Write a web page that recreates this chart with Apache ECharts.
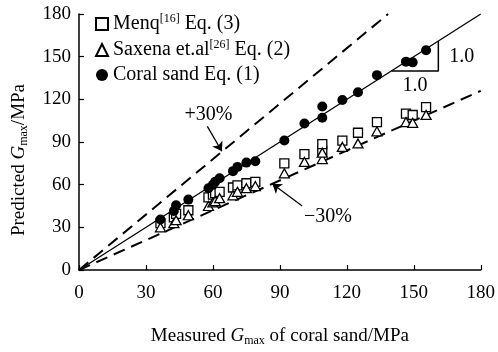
<!DOCTYPE html>
<html><head><meta charset="utf-8">
<script src="https://cdn.jsdelivr.net/npm/echarts@6/dist/echarts.min.js"></script>
<style>html,body{margin:0;padding:0;background:#fff}#c{width:498px;height:352px}</style>
</head><body><div id="c"></div>
<script>
// Measured Gmax (x) shared by the three predictions
const measured = [36.5, 42.5, 43.5, 49, 58, 60, 61, 63, 69, 71, 75, 79, 92, 101, 109, 109, 118, 125, 133.5, 146.5, 149.5, 155.5];
const coralPred = [35.5, 41.5, 45.5, 49.5, 57.5, 60, 62, 64.5, 69.5, 72.5, 75.5, 76.5, 91, 103, 107, 115, 119.5, 125, 137, 146.5, 146, 154.5];
const menqPred = [33, 37, 39.5, 42, 51, 53, 54, 55, 58, 59.5, 61, 62, 75, 81.5, 84, 88.5, 91, 96.5, 104, 110, 109, 114.5];
const saxenaPred = [30, 33, 35, 38.5, 45, 47.5, 48.5, 50.5, 52.5, 55, 57.5, 59, 68, 76, 78, 82.5, 86.5, 89, 97.5, 104, 103.5, 109];
const xTicks = [0, 30, 60, 90, 120, 150, 180];
const yTicks = [0, 30, 60, 90, 120, 150, 180];
const lineEqual = [[0, 0], [180, 180]];
const linePlus30 = [[0, 0], [138.5, 180]];
const lineMinus30 = [[0, 0], [180, 126]];
const slopeTri = [[140, 140], [161, 140], [161, 161]];
const arrowPlus = [[57.5, 101], [64, 83.5]];
const arrowMinus = [[100, 45], [86.6, 60.6]];
const labels = [
  {text: '+30%', at: [58, 109]},
  {text: '\u221230%', at: [111.5, 37.5]},
  {text: '1.0', at: [171.5, 150]},
  {text: '1.0', at: [150.5, 129.5]}
];

const FONT = 'Liberation Serif';
const FS = 19;
const FL = 20;
const pairs = ys => measured.map((x, i) => [x, ys[i]]);
const chart = echarts.init(document.getElementById('c'), null, {renderer: 'canvas'});
const richName = {
  i: {fontFamily: FONT, fontSize: FS, fontStyle: 'italic', color: '#000'},
  s: {fontFamily: FONT, fontSize: 12, color: '#000', padding: [10, 0, 0, 0]},
  t: {fontFamily: FONT, fontSize: FS, color: '#000'}
};
const axisCommon = {
  type: 'value', min: 0, max: 180, interval: 30,
  axisLine: {show: true, lineStyle: {color: '#000', width: 1.5}},
  axisTick: {show: true, inside: true, length: 5, lineStyle: {color: '#000', width: 1.2}},
  axisLabel: {color: '#000', fontFamily: FONT, fontSize: FS},
  splitLine: {show: false},
  nameLocation: 'middle',
  nameTextStyle: {color: '#000', fontFamily: FONT, fontSize: FS, rich: richName}
};
const option = {
  animation: false,
  backgroundColor: '#fff',
  grid: {left: 79, top: 14, right: 15, bottom: 74, containLabel: false},
  xAxis: Object.assign({}, axisCommon, {
    name: '{t|Measured }{i|G}{s|max}{t| of coral sand/MPa}', nameGap: 55,
    axisLabel: Object.assign({}, axisCommon.axisLabel, {margin: 14, formatter: v => xTicks.includes(v) ? String(v) : ''})
  }),
  yAxis: Object.assign({}, axisCommon, {
    name: '',
    axisLabel: Object.assign({}, axisCommon.axisLabel, {margin: 8, formatter: v => yTicks.includes(v) ? String(v) : ''})
  }),
  legend: {
    orient: 'vertical', left: 90, top: 8, itemGap: 5, itemWidth: 12, itemHeight: 12,
    data: ['menq', 'saxena', 'coral'],
    textStyle: {fontFamily: FONT, fontSize: FL, color: '#000',
      rich: {
        t: {fontFamily: FONT, fontSize: FL, color: '#000'},
        p: {fontFamily: FONT, fontSize: 12, color: '#000', padding: [0, 0, 10, 0]}
      }},
    formatter: n => ({
      menq: '{t|Menq}{p|[16]}{t| Eq. (3)}',
      saxena: '{t|Saxena et.al}{p|[26]}{t| Eq. (2)}',
      coral: '{t|Coral sand Eq. (1)}'
    })[n]
  },
  series: [
    {type: 'line', data: lineEqual, symbol: 'none', lineStyle: {color: '#000', width: 1.3}, z: 1, silent: true},
    {type: 'line', data: linePlus30, symbol: 'none', lineStyle: {color: '#000', width: 2, type: [12, 7]}, z: 1, silent: true},
    {type: 'line', data: lineMinus30, symbol: 'none', lineStyle: {color: '#000', width: 2, type: [12, 7]}, z: 1, silent: true},
    {type: 'line', data: slopeTri, symbol: 'none', lineStyle: {color: '#000', width: 1.5}, z: 1, silent: true},
    {type: 'lines', coordinateSystem: 'cartesian2d', symbol: ['none', 'arrow'], symbolSize: 9,
      lineStyle: {color: '#000', width: 1.3, opacity: 1},
      data: [{coords: arrowPlus}, {coords: arrowMinus}], z: 2, silent: true},
    {name: 'menq', type: 'scatter', data: pairs(menqPred), symbol: 'rect', symbolSize: 9,
      itemStyle: {color: '#fff', borderColor: '#000', borderWidth: 1.3, opacity: 1}, z: 3},
    {name: 'saxena', type: 'scatter', data: pairs(saxenaPred), symbol: 'triangle', symbolSize: [10, 9],
      itemStyle: {color: '#fff', borderColor: '#000', borderWidth: 1.3, opacity: 1}, z: 4},
    {name: 'coral', type: 'scatter', data: pairs(coralPred), symbol: 'circle', symbolSize: 10,
      itemStyle: {color: '#000', opacity: 1}, z: 5}
  ]
};
chart.setOption(option);
const gr = labels.map(l => {
  const p = chart.convertToPixel({gridIndex: 0}, l.at);
  return {type: 'text', x: p[0], y: p[1], z: 10,
    style: {text: l.text, fontFamily: FONT, fontSize: FL, fill: '#000', align: 'center', verticalAlign: 'middle'}};
});
gr.push({type: 'text', x: 19, y: 160, rotation: Math.PI / 2, z: 10,
  style: {text: '{t|Predicted }{i|G}{s|max}{t|/MPa}', rich: richName, fontFamily: FONT, fontSize: FS,
    fill: '#000', align: 'center', verticalAlign: 'middle'}});
chart.setOption({graphic: gr});
</script></body></html>
